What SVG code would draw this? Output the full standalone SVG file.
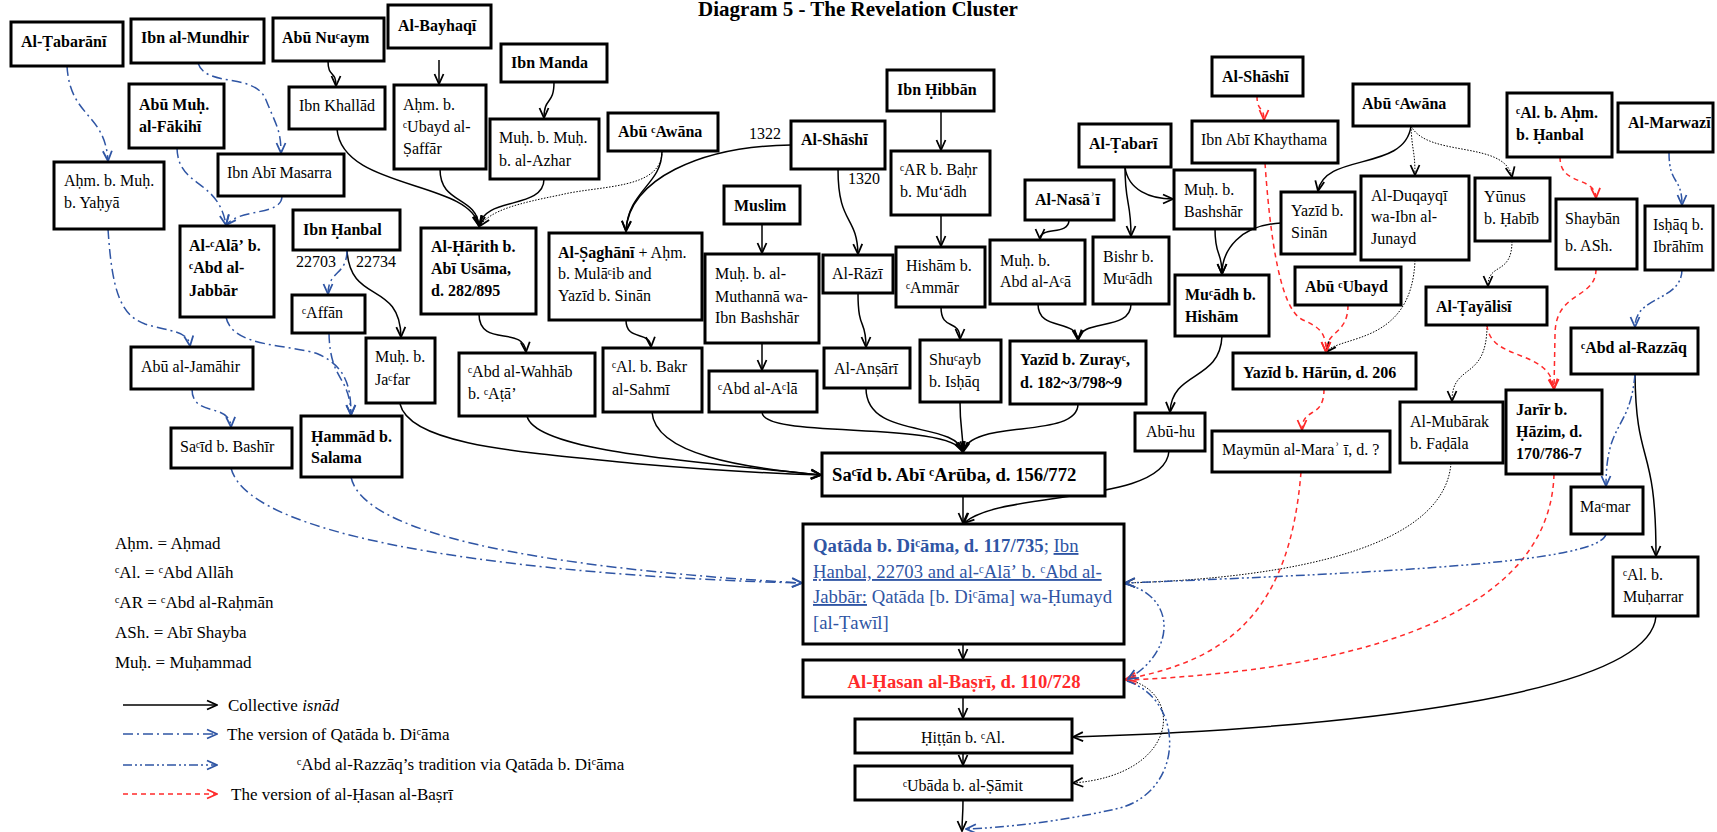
<svg xmlns="http://www.w3.org/2000/svg" width="1717" height="832" viewBox="0 0 1717 832">
<style>
.n rect{fill:#fff;stroke:#000;stroke-width:3}
text{font-family:"Liberation Serif","DejaVu Serif","DejaVu Sans",serif;font-size:16px;fill:#000}
.b{font-weight:bold}
.big{font-size:18.7px}
.lg{font-size:17px}
.cx path{fill:none}
.k{stroke:#000;stroke-width:1.5;marker-end:url(#ak)}
.d{stroke:#000;stroke-width:1;stroke-dasharray:1.5 1.5;marker-end:url(#ak)}
.r{stroke:#ff2a2a;stroke-width:1.5;stroke-dasharray:5 4;marker-end:url(#ar)}
.q{stroke:#2f55a4;stroke-width:1.5;stroke-dasharray:10 4 2 4;marker-end:url(#ab)}
.z{stroke:#2f55a4;stroke-width:1.5;stroke-dasharray:9 3 2 3 2 3;marker-end:url(#ab)}
.u{text-decoration:underline}
.blue{fill:#2f55a4}
</style>
<defs>
<marker id="ak" viewBox="0 0 12 12" refX="11" refY="6" markerWidth="12" markerHeight="12" markerUnits="userSpaceOnUse" orient="auto"><path d="M1,1.5 L11,6 L1,10.5" fill="none" stroke="#000" stroke-width="1.8"/></marker>
<marker id="ab" viewBox="0 0 12 12" refX="11" refY="6" markerWidth="12" markerHeight="12" markerUnits="userSpaceOnUse" orient="auto"><path d="M1,1.5 L11,6 L1,10.5" fill="none" stroke="#2f55a4" stroke-width="1.8"/></marker>
<marker id="ar" viewBox="0 0 12 12" refX="11" refY="6" markerWidth="12" markerHeight="12" markerUnits="userSpaceOnUse" orient="auto"><path d="M1,1.5 L11,6 L1,10.5" fill="none" stroke="#ff2a2a" stroke-width="1.8"/></marker>
</defs>
<rect width="1717" height="832" fill="#fff"/>
<text x="858" y="16" text-anchor="middle" class="b" style="font-size:21px">Diagram 5 - The Revelation Cluster</text>

<g id="connectors" class="cx">
<path class="k" d="M328,61 C328,78 336,70 336,86"/>
<path class="k" d="M439,60 L439,84"/>
<path class="k" d="M554,82 C554,106 544,96 544,118"/>
<path class="k" d="M337,129 C342,190 470,180 479,226"/>
<path class="k" d="M440,169 C440,205 476,195 479,226"/>
<path class="k" d="M544,179 C544,210 484,196 479,226"/>
<path class="d" d="M662,151 C662,190 600,185 560,195 C520,203 490,210 480,226"/>
<path class="k" d="M662,151 C662,185 628,190 626,231"/>
<path class="k" d="M791,145 C700,146 628,180 626,231"/>
<path class="k" d="M838,169 C838,225 857,215 858,254"/>
<path class="k" d="M941,111 L941,150"/>
<path class="k" d="M941,215 L941,246"/>
<path class="k" d="M762,224 L762,253"/>
<path class="k" d="M762,343 L762,370"/>
<path class="k" d="M479,314 C479,348 524,325 526,352"/>
<path class="k" d="M626,320 C626,342 650,330 651,347"/>
<path class="k" d="M347,250 C350,305 400,280 401,337"/>
<path class="k" d="M858,293 C858,332 866,318 866,347"/>
<path class="k" d="M941,307 C941,332 960,318 960,339"/>
<path class="k" d="M1069,220 C1069,236 1040,226 1040,239"/>
<path class="k" d="M1125,167 C1125,205 1131,200 1131,236"/>
<path class="k" d="M1125,167 C1128,190 1150,199 1173,199"/>
<path class="k" d="M1038,304 C1038,332 1076,318 1078,340"/>
<path class="k" d="M1131,304 C1131,332 1080,318 1078,340"/>
<path class="k" d="M1215,229 C1215,258 1222,250 1222,274"/>
<path class="k" d="M1281,223 C1240,225 1222,250 1222,274"/>
<path class="k" d="M1411,126 C1405,172 1325,152 1318,191"/>
<path class="k" d="M400,404 C410,445 520,452 640,464 C720,471 790,474 821,475"/>
<path class="k" d="M527,416 C535,452 700,462 821,475"/>
<path class="k" d="M652,412 C655,455 745,468 821,475"/>
<path class="k" d="M762,412 C762,440 950,420 963,452"/>
<path class="k" d="M866,388 C866,440 955,420 963,452"/>
<path class="k" d="M960,402 C960,430 963,430 963,452"/>
<path class="k" d="M1078,404 C1078,440 970,418 963,452"/>
<path class="k" d="M963,496 L963,523"/>
<path class="k" d="M1169,451 C1165,505 1000,490 964,523"/>
<path class="k" d="M1222,336 C1220,382 1172,370 1170,412"/>
<path class="k" d="M963,644 L963,659"/>
<path class="k" d="M963,697 L963,718"/>
<path class="k" d="M963,753 L963,765"/>
<path class="k" d="M963,800 C963,815 962,820 962,831"/>
<path class="k" d="M1635,374 C1636,470 1656,440 1656,556"/>
<path class="k" d="M1656,616 C1650,695 1350,728 1073,737"/>

<path class="d" d="M1411,126 C1412,152 1415,150 1415,175"/>
<path class="d" d="M1411,126 C1428,158 1505,140 1512,177"/>
<path class="d" d="M1512,241 C1512,276 1488,262 1488,286"/>
<path class="d" d="M1415,260 C1412,345 1340,335 1326,352"/>
<path class="d" d="M1487,325 C1487,382 1452,362 1452,401"/>
<path class="d" d="M1451,463 C1445,545 1300,578 1125,583"/>
<path class="d" d="M1125,679 C1185,690 1180,775 1073,783"/>

<path class="r" d="M1257,96 C1257,112 1264,106 1264,120"/>
<path class="r" d="M1265,163 C1272,265 1285,312 1303,320 C1322,328 1326,335 1326,352"/>
<path class="r" d="M1348,305 C1348,335 1326,330 1326,352"/>
<path class="r" d="M1324,389 C1324,420 1302,406 1302,430"/>
<path class="r" d="M1301,472 C1290,610 1230,660 1126,679"/>
<path class="r" d="M1554,474 C1550,625 1330,672 1126,680"/>
<path class="r" d="M1560,157 C1560,187 1595,175 1596,198"/>
<path class="r" d="M1596,269 C1596,300 1555,290 1555,335 L1554,389"/>
<path class="r" d="M1487,325 C1490,362 1550,348 1554,389"/>

<path class="q" d="M67,66 C70,118 105,112 108,161"/>
<path class="q" d="M198,63 C206,88 255,72 266,100 C276,125 281,130 281,153"/>
<path class="q" d="M177,148 C178,188 218,178 226,225"/>
<path class="q" d="M282,196 C282,216 240,208 226,225"/>
<path class="q" d="M108,229 C112,290 120,315 145,324 C170,332 188,330 190,346"/>
<path class="q" d="M226,317 C232,348 290,344 318,354 C345,366 351,385 351,415"/>
<path class="q" d="M347,250 C347,276 328,270 328,294"/>
<path class="q" d="M329,333 C330,382 350,375 351,415"/>
<path class="q" d="M192,389 C192,418 230,402 231,427"/>
<path class="q" d="M231,468 C250,545 560,577 802,583"/>
<path class="q" d="M351,477 C365,545 610,572 802,583"/>

<path class="z" d="M1669,152 C1669,186 1682,176 1682,205"/>
<path class="z" d="M1682,269 C1682,302 1635,295 1635,327"/>
<path class="z" d="M1635,374 C1630,432 1606,420 1606,486"/>
<path class="z" d="M1606,534 C1600,562 1400,572 1125,583"/>
<path class="z" d="M1125,584 C1175,595 1178,650 1128,679"/>
<path class="z" d="M1127,681 C1185,700 1185,790 1120,808 C1060,822 1000,828 966,829"/>

<path class="k" d="M123,705 L217,705"/>
<path class="q" d="M123,734 L217,734"/>
<path class="z" d="M123,765 L217,765"/>
<path class="r" d="M123,794 L217,794"/>
</g>

<g id="n-tabarani" class="n"><rect x="11" y="22" width="112" height="44"/><text x="21" y="47" class="b">Al-Ṭabarānī</text></g>
<g id="n-mundhir" class="n"><rect x="131" y="19" width="133" height="44"/><text x="141" y="43" class="b">Ibn al-Mundhir</text></g>
<g id="n-abunuaym" class="n"><rect x="273" y="18" width="111" height="43"/><text x="282" y="43" class="b">Abū Nuᶜaym</text></g>
<g id="n-bayhaqi" class="n"><rect x="388" y="5" width="103" height="43"/><text x="398" y="31" class="b">Al-Bayhaqī</text></g>
<g id="n-manda" class="n"><rect x="501" y="44" width="106" height="38"/><text x="511" y="68" class="b">Ibn Manda</text></g>
<g id="n-fakihi" class="n"><rect x="129" y="84" width="95" height="64"/><text x="139" y="110" class="b">Abū Muḥ.</text><text x="139" y="132" class="b">al-Fākihī</text></g>
<g id="n-khallad" class="n"><rect x="289" y="87" width="96" height="42"/><text x="299" y="111">Ibn Khallād</text></g>
<g id="n-saffar" class="n"><rect x="394" y="85" width="92" height="84"/><text x="403" y="110">Aḥm. b.</text><text x="403" y="132">ᶜUbayd al-</text><text x="403" y="154">Ṣaffār</text></g>
<g id="n-azhar" class="n"><rect x="490" y="119" width="109" height="60"/><text x="499" y="143">Muḥ. b. Muḥ.</text><text x="499" y="166">b. al-Azhar</text></g>
<g id="n-yahya" class="n"><rect x="54" y="162" width="110" height="67"/><text x="64" y="186">Aḥm. b. Muḥ.</text><text x="64" y="208">b. Yaḥyā</text></g>
<g id="n-masarra" class="n"><rect x="218" y="154" width="126" height="42"/><text x="227" y="178">Ibn Abī Masarra</text></g>
<g id="n-ala" class="n"><rect x="180" y="226" width="94" height="91"/><text x="189" y="251" class="b">Al-ᶜAlāʼ b.</text><text x="189" y="273" class="b">ᶜAbd al-</text><text x="189" y="296" class="b">Jabbār</text></g>
<g id="n-hanbal" class="n"><rect x="293" y="210" width="107" height="40"/><text x="303" y="235" class="b">Ibn Ḥanbal</text></g>
<g id="lbl-hanbal"><text x="296" y="267">22703</text><text x="356" y="267">22734</text></g>
<g id="n-harith" class="n"><rect x="421" y="228" width="115" height="86"/><text x="431" y="252" class="b">Al-Ḥārith b.</text><text x="431" y="274" class="b">Abī Usāma,</text><text x="431" y="296" class="b">d. 282/895</text></g>
<g id="n-awana1" class="n"><rect x="608" y="113" width="110" height="38"/><text x="618" y="137" class="b">Abū ᶜAwāna</text></g>
<g id="lbl-shashi"><text x="749" y="139">1322</text><text x="848" y="184">1320</text></g>
<g id="n-shashi1" class="n"><rect x="791" y="121" width="94" height="48"/><text x="801" y="145" class="b">Al-Shāshī</text></g>
<g id="n-hibban" class="n"><rect x="887" y="70" width="107" height="41"/><text x="897" y="95" class="b">Ibn Ḥibbān</text></g>
<g id="n-arbahr" class="n"><rect x="891" y="151" width="99" height="64"/><text x="900" y="175">ᶜAR b. Baḥr</text><text x="900" y="197">b. Mu‘ādh</text></g>
<g id="n-muslim" class="n"><rect x="724" y="186" width="76" height="38"/><text x="734" y="211" class="b">Muslim</text></g>
<g id="n-saghani" class="n"><rect x="549" y="233" width="153" height="87"/><text x="558" y="258"><tspan class="b">Al-Ṣaghānī</tspan> + Aḥm.</text><text x="558" y="279">b. Mulāᶜib and</text><text x="558" y="301">Yazīd b. Sinān</text></g>
<g id="n-muthanna" class="n"><rect x="705" y="254" width="114" height="89"/><text x="715" y="279">Muḥ. b. al-</text><text x="715" y="302">Muthannā wa-</text><text x="715" y="323">Ibn Bashshār</text></g>
<g id="n-wahhab" class="n"><rect x="459" y="353" width="136" height="63"/><text x="468" y="377">ᶜAbd al-Wahhāb</text><text x="468" y="399">b. ᶜAṭāʼ</text></g>
<g id="n-sahmi" class="n"><rect x="603" y="348" width="99" height="64"/><text x="612" y="372">ᶜAl. b. Bakr</text><text x="612" y="395">al-Sahmī</text></g>
<g id="n-abdala" class="n"><rect x="709" y="371" width="108" height="41"/><text x="718" y="394">ᶜAbd al-Aᶜlā</text></g>
<g id="n-affan" class="n"><rect x="292" y="295" width="73" height="38"/><text x="302" y="318">ᶜAffān</text></g>
<g id="n-jafar" class="n"><rect x="366" y="338" width="69" height="65"/><text x="375" y="362">Muḥ. b.</text><text x="375" y="385">Jaᶜfar</text></g>
<g id="n-jamahir" class="n"><rect x="131" y="347" width="122" height="42"/><text x="141" y="372">Abū al-Jamāhir</text></g>
<g id="n-bashir" class="n"><rect x="171" y="428" width="121" height="40"/><text x="180" y="452">Saᶜīd b. Bashīr</text></g>
<g id="n-hammad" class="n"><rect x="301" y="416" width="101" height="61"/><text x="311" y="442" class="b">Ḥammād b.</text><text x="311" y="463" class="b">Salama</text></g>
<g id="n-razi" class="n"><rect x="823" y="255" width="70" height="38"/><text x="832" y="279">Al-Rāzī</text></g>
<g id="n-hisham" class="n"><rect x="896" y="247" width="89" height="60"/><text x="906" y="271">Hishām b.</text><text x="906" y="293">ᶜAmmār</text></g>
<g id="n-ansari" class="n"><rect x="824" y="348" width="86" height="40"/><text x="834" y="374">Al-Anṣārī</text></g>
<g id="n-shuayb" class="n"><rect x="920" y="340" width="81" height="62"/><text x="929" y="365">Shuᶜayb</text><text x="929" y="387">b. Isḥāq</text></g>
<g id="n-nasai" class="n"><rect x="1025" y="180" width="89" height="40"/><text x="1035" y="205" class="b">Al-Nasāʾī</text></g>
<g id="n-abdalaa" class="n"><rect x="990" y="240" width="95" height="64"/><text x="1000" y="266">Muḥ. b.</text><text x="1000" y="287">Abd al-Aᶜā</text></g>
<g id="n-bishr" class="n"><rect x="1093" y="237" width="76" height="67"/><text x="1103" y="262">Bishr b.</text><text x="1103" y="284">Muᶜādh</text></g>
<g id="n-zuray" class="n"><rect x="1010" y="341" width="136" height="63"/><text x="1020" y="365" class="b">Yazīd b. Zurayᶜ,</text><text x="1020" y="388" class="b">d. 182~3/798~9</text></g>
<g id="n-tabari" class="n"><rect x="1079" y="124" width="92" height="43"/><text x="1089" y="149" class="b">Al-Ṭabarī</text></g>
<g id="n-bashshar" class="n"><rect x="1174" y="170" width="81" height="59"/><text x="1184" y="195">Muḥ. b.</text><text x="1184" y="217">Bashshār</text></g>
<g id="n-muadh" class="n"><rect x="1175" y="275" width="94" height="61"/><text x="1185" y="300" class="b">Muᶜādh b.</text><text x="1185" y="322" class="b">Hishām</text></g>
<g id="n-abuhu" class="n"><rect x="1135" y="413" width="70" height="38"/><text x="1146" y="437">Abū-hu</text></g>
<g id="n-shashi2" class="n"><rect x="1212" y="57" width="91" height="39"/><text x="1222" y="82" class="b">Al-Shāshī</text></g>
<g id="n-khaythama" class="n"><rect x="1192" y="121" width="146" height="42"/><text x="1201" y="145">Ibn Abī Khaythama</text></g>
<g id="n-awana2" class="n"><rect x="1353" y="84" width="116" height="42"/><text x="1362" y="109" class="b">Abū ᶜAwāna</text></g>
<g id="n-sinan" class="n"><rect x="1281" y="192" width="74" height="62"/><text x="1291" y="216">Yazīd b.</text><text x="1291" y="238">Sinān</text></g>
<g id="n-duqayqi" class="n"><rect x="1361" y="176" width="108" height="84"/><text x="1371" y="201">Al-Duqayqī</text><text x="1371" y="222">wa-Ibn al-</text><text x="1371" y="244">Junayd</text></g>
<g id="n-yunus" class="n"><rect x="1475" y="178" width="75" height="63"/><text x="1484" y="202">Yūnus</text><text x="1484" y="224">b. Ḥabīb</text></g>
<g id="n-ubayd" class="n"><rect x="1295" y="267" width="106" height="38"/><text x="1305" y="292" class="b">Abū ᶜUbayd</text></g>
<g id="n-harun" class="n"><rect x="1233" y="353" width="183" height="36"/><text x="1243" y="378" class="b">Yazīd b. Hārūn, d. 206</text></g>
<g id="n-maymun" class="n"><rect x="1212" y="431" width="178" height="41"/><text x="1222" y="455">Maymūn al-Maraʾ ī, d. ?</text></g>
<g id="n-alhanbal" class="n"><rect x="1507" y="93" width="105" height="64"/><text x="1516" y="118" class="b">ᶜAl. b. Aḥm.</text><text x="1516" y="140" class="b">b. Ḥanbal</text></g>
<g id="n-marwazi" class="n"><rect x="1618" y="103" width="95" height="49"/><text x="1628" y="128" class="b">Al-Marwazī</text></g>
<g id="n-shayban" class="n"><rect x="1556" y="199" width="81" height="70"/><text x="1565" y="224">Shaybān</text><text x="1565" y="251">b. ASh.</text></g>
<g id="n-ishaq" class="n"><rect x="1645" y="206" width="68" height="64"/><text x="1653" y="230">Isḥāq b.</text><text x="1653" y="252">Ibrāhīm</text></g>
<g id="n-tayalisi" class="n"><rect x="1426" y="287" width="121" height="38"/><text x="1436" y="312" class="b">Al-Ṭayālisī</text></g>
<g id="n-razzaq" class="n"><rect x="1571" y="328" width="127" height="46"/><text x="1581" y="353" class="b">ᶜAbd al-Razzāq</text></g>
<g id="n-mubarak" class="n"><rect x="1400" y="402" width="103" height="61"/><text x="1410" y="427">Al-Mubārak</text><text x="1410" y="449">b. Faḍāla</text></g>
<g id="n-jarir" class="n"><rect x="1506" y="390" width="96" height="84"/><text x="1516" y="415" class="b">Jarīr b.</text><text x="1516" y="437" class="b">Ḥāzim, d.</text><text x="1516" y="459" class="b">170/786-7</text></g>
<g id="n-mamar" class="n"><rect x="1571" y="487" width="72" height="47"/><text x="1580" y="512">Maᶜmar</text></g>
<g id="n-muharrar" class="n"><rect x="1613" y="557" width="85" height="59"/><text x="1623" y="580">ᶜAl. b.</text><text x="1623" y="602">Muḥarrar</text></g>
<g id="n-aruba" class="n"><rect x="822" y="453" width="283" height="43"/><text x="832" y="481" class="b big">Saᶜīd b. Abī ᶜArūba, d. 156/772</text></g>
<g id="n-qatada" class="n"><rect x="803" y="524" width="321" height="120"/>
<text x="813" y="552" class="big blue"><tspan class="b">Qatāda b. Diᶜāma, d. 117/735</tspan>; <tspan class="u">Ibn</tspan></text>
<text x="813" y="578" class="big blue u">Ḥanbal, 22703 and al-ᶜAlāʼ b. ᶜAbd al-</text>
<text x="813" y="603" class="big blue"><tspan class="u">Jabbār:</tspan> Qatāda [b. Diᶜāma] wa-Ḥumayd</text>
<text x="813" y="629" class="big blue">[al-Ṭawīl]</text></g>
<g id="n-hasan" class="n"><rect x="803" y="660" width="321" height="37"/><text x="964" y="688" text-anchor="middle" class="b big" style="fill:#ff2a2a">Al-Ḥasan al-Baṣrī, d. 110/728</text></g>
<g id="n-hittan" class="n"><rect x="855" y="719" width="217" height="34"/><text x="963" y="743" text-anchor="middle">Ḥiṭṭān b. ᶜAl.</text></g>
<g id="n-ubada" class="n"><rect x="855" y="766" width="217" height="34"/><text x="963" y="791" text-anchor="middle">ᶜUbāda b. al-Ṣāmit</text></g>

<g id="legend">
<text x="115" y="549" class="lg">Aḥm. = Aḥmad</text>
<text x="115" y="578" class="lg">ᶜAl. = ᶜAbd Allāh</text>
<text x="115" y="608" class="lg">ᶜAR = ᶜAbd al-Raḥmān</text>
<text x="115" y="638" class="lg">ASh. = Abī Shayba</text>
<text x="115" y="668" class="lg">Muḥ. = Muḥammad</text>
<text x="228" y="711" class="lg">Collective <tspan font-style="italic">isnād</tspan></text>
<text x="227" y="740" class="lg">The version of Qatāda b. Diᶜāma</text>
<text x="297" y="770" class="lg">ᶜAbd al-Razzāq’s tradition via Qatāda b. Diᶜāma</text>
<text x="231" y="800" class="lg">The version of al-Ḥasan al-Baṣrī</text>
</g>
</svg>
